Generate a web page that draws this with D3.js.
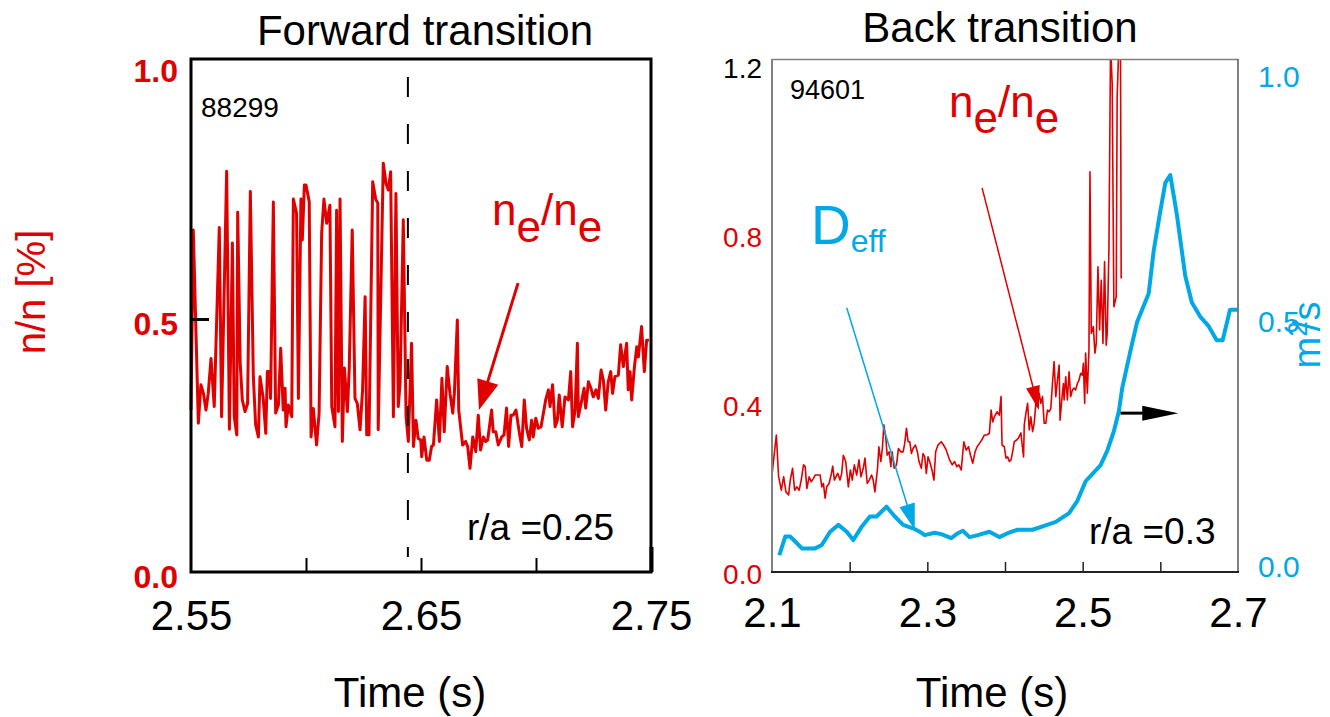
<!DOCTYPE html>
<html><head><meta charset="utf-8">
<script src="https://cdn.jsdelivr.net/npm/d3@7"></script>
<style>
body{margin:0;background:#fff;}
svg{display:block;font-family:"Liberation Sans",Arial,Helvetica,sans-serif;}
</style></head><body>
<svg id="chart" width="1330" height="717"></svg>
<script>
// ---------- DATA ----------
// Forward transition (shot 88299), r/a = 0.25 : density fluctuation level [%]
const forwardTime = [
 2.5500,2.5510,2.5532,2.5543,2.5554,2.5565,2.5575,2.5587,2.5601,2.5623,
 2.5633,2.5655,2.5667,2.5680,2.5688,2.5699,2.5703,2.5714,2.5723,2.5735,
 2.5746,2.5758,2.5771,2.5781,2.5793,2.5800,2.5814,2.5825,2.5832,2.5841,
 2.5846,2.5858,2.5868,2.5880,2.5890,2.5901,2.5909,2.5913,2.5923,2.5938,
 2.5945,2.5959,2.5967,2.5978,2.5984,2.5993,2.6000,2.6014,2.6022,2.6032,
 2.6039,2.6046,2.6057,2.6068,2.6078,2.6090,2.6104,2.6112,2.6126,2.6133,
 2.6141,2.6148,2.6158,2.6167,2.6180,2.6188,2.6201,2.6213,2.6223,2.6235,
 2.6246,2.6257,2.6264,2.6274,2.6290,2.6303,2.6312,2.6314,2.6336,2.6348,
 2.6358,2.6368,2.6380,2.6391,2.6401,2.6409,2.6423,2.6435,2.6445,2.6459,
 2.6467,2.6478,2.6488,2.6499,2.6503,2.6513,2.6525,2.6536,2.6546,2.6554,
 2.6568,2.6580,2.6591,2.6601,2.6614,2.6626,2.6638,2.6645,2.6658,2.6664,
 2.6681,2.6694,2.6703,2.6713,2.6725,2.6738,2.6749,2.6759,2.6771,2.6781,
 2.6790,2.6807,2.6814,2.6825,2.6836,2.6851,2.6861,2.6872,2.6881,2.6891,
 2.6901,2.6913,2.6928,2.6938,2.6949,2.6959,2.6971,2.6981,2.6988,2.6999,
 2.7010,2.7022,2.7042,2.7054,2.7061,2.7072,2.7083,2.7093,2.7101,2.7114,
 2.7126,2.7141,2.7151,2.7159,2.7170,2.7180,2.7184,2.7199,2.7209,2.7216,
 2.7228,2.7239,2.7249,2.7261,2.7271,2.7283,2.7293,2.7303,2.7314,2.7325,
 2.7333,2.7343,2.7358,2.7368,2.7380,2.7394,2.7401,2.7409,2.7416,2.7428,
 2.7438,2.7445,2.7459,2.7471,2.7481,2.7491];
const forwardValue = [
 0.320,0.676,0.294,0.370,0.353,0.320,0.353,0.422,0.327,0.681,
 0.307,0.792,0.282,0.650,0.307,0.271,0.711,0.412,0.340,0.317,
 0.333,0.752,0.386,0.291,0.267,0.386,0.343,0.274,0.396,0.396,
 0.343,0.731,0.314,0.330,0.442,0.320,0.363,0.287,0.330,0.307,
 0.737,0.709,0.343,0.737,0.656,0.765,0.765,0.732,0.267,0.323,
 0.287,0.251,0.314,0.669,0.737,0.689,0.725,0.327,0.287,0.715,
 0.317,0.737,0.258,0.403,0.317,0.403,0.676,0.343,0.333,0.281,
 0.360,0.544,0.271,0.271,0.771,0.737,0.729,0.281,0.808,0.768,
 0.755,0.791,0.307,0.748,0.327,0.373,0.696,0.307,0.258,0.452,
 0.248,0.300,0.264,0.261,0.228,0.267,0.221,0.221,0.248,0.251,
 0.340,0.258,0.383,0.277,0.406,0.353,0.314,0.353,0.498,0.320,
 0.251,0.258,0.248,0.205,0.267,0.238,0.310,0.241,0.267,0.258,
 0.261,0.320,0.277,0.277,0.251,0.267,0.271,0.324,0.248,0.310,
 0.310,0.320,0.274,0.248,0.340,0.284,0.261,0.300,0.267,0.304,
 0.284,0.287,0.340,0.360,0.327,0.370,0.287,0.300,0.350,0.287,
 0.346,0.340,0.396,0.287,0.320,0.452,0.307,0.340,0.363,0.324,
 0.376,0.363,0.346,0.360,0.343,0.399,0.379,0.320,0.376,0.396,
 0.353,0.386,0.389,0.449,0.406,0.452,0.360,0.396,0.340,0.406,
 0.445,0.425,0.485,0.396,0.458,0.458];

// Back transition (shot 94601), r/a = 0.3 : density fluctuation level
const backTime = [
 2.1000,2.1056,2.1085,2.1120,2.1150,2.1179,2.1214,2.1235,2.1265,2.1291,
 2.1321,2.1350,2.1376,2.1406,2.1427,2.1449,2.1479,2.1504,2.1534,2.1556,
 2.1620,2.1641,2.1662,2.1684,2.1705,2.1735,2.1761,2.1782,2.1803,2.1825,
 2.1846,2.1876,2.1897,2.1919,2.1949,2.1983,2.2009,2.2034,2.2060,2.2090,
 2.2120,2.2145,2.2175,2.2197,2.2226,2.2252,2.2282,2.2303,2.2325,2.2359,
 2.2376,2.2402,2.2423,2.2440,2.2466,2.2483,2.2509,2.2530,2.2547,2.2573,
 2.2603,2.2628,2.2658,2.2688,2.2709,2.2731,2.2752,2.2774,2.2795,2.2816,
 2.2846,2.2872,2.2893,2.2923,2.2944,2.2966,2.2987,2.3009,2.3030,2.3060,
 2.3085,2.3107,2.3137,2.3179,2.3209,2.3244,2.3286,2.3321,2.3350,2.3380,
 2.3406,2.3436,2.3470,2.3500,2.3530,2.3556,2.3585,2.3615,2.3641,2.3671,
 2.3701,2.3735,2.3769,2.3799,2.3821,2.3842,2.3863,2.3897,2.3927,2.3949,
 2.3962,2.3991,2.4013,2.4034,2.4056,2.4077,2.4098,2.4120,2.4150,2.4171,
 2.4205,2.4214,2.4239,2.4248,2.4269,2.4291,2.4312,2.4333,2.4355,2.4376,
 2.4397,2.4419,2.4440,2.4462,2.4483,2.4504,2.4526,2.4547,2.4568,2.4590,
 2.4611,2.4632,2.4654,2.4675,2.4697,2.4709,2.4731,2.4752,2.4761,2.4782,
 2.4803,2.4825,2.4846,2.4868,2.4889,2.4910,2.4932,2.4953,2.4974,2.4996,
 2.5009,2.5026,2.5038,2.5060,2.5081,2.5094,2.5111,2.5137,2.5158,2.5175,
 2.5197,2.5218,2.5239,2.5261,2.5282,2.5303,2.5316,2.5338,2.5359,2.5380,
 2.5402,2.5432,2.5444,2.5466,2.5487,2.5496];
const backValue = [
 0.230,0.325,0.226,0.194,0.226,0.190,0.183,0.218,0.246,0.194,
 0.202,0.194,0.218,0.254,0.250,0.198,0.226,0.214,0.222,0.230,
 0.230,0.202,0.210,0.175,0.202,0.210,0.230,0.251,0.218,0.226,
 0.234,0.218,0.234,0.277,0.262,0.202,0.242,0.218,0.254,0.230,
 0.266,0.226,0.246,0.270,0.210,0.218,0.230,0.218,0.190,0.246,
 0.297,0.262,0.297,0.349,0.317,0.277,0.285,0.250,0.285,0.246,
 0.254,0.293,0.285,0.285,0.305,0.341,0.309,0.309,0.281,0.293,
 0.301,0.285,0.262,0.246,0.281,0.273,0.234,0.273,0.262,0.242,
 0.218,0.285,0.301,0.309,0.301,0.289,0.266,0.254,0.262,0.250,
 0.254,0.242,0.309,0.289,0.297,0.277,0.258,0.285,0.297,0.305,
 0.313,0.325,0.325,0.329,0.384,0.356,0.368,0.380,0.372,0.416,
 0.301,0.297,0.270,0.273,0.262,0.266,0.285,0.309,0.313,0.317,
 0.330,0.313,0.273,0.349,0.376,0.400,0.337,0.368,0.333,0.353,
 0.400,0.392,0.424,0.400,0.416,0.353,0.353,0.384,0.380,0.388,
 0.447,0.499,0.416,0.455,0.491,0.360,0.408,0.447,0.408,0.463,
 0.408,0.475,0.416,0.432,0.436,0.432,0.447,0.455,0.471,0.467,
 0.495,0.400,0.519,0.424,0.526,0.949,0.566,0.582,0.519,0.542,
 0.724,0.574,0.692,0.542,0.736,0.538,0.566,0.764,1.250,1.159,
 0.629,0.653,1.127,1.250,1.250,0.696];

// Back transition : effective diffusivity D_eff [m^2/s]
const deffTime = [
 2.1094,2.1171,2.1235,2.1299,2.1385,2.1556,2.1641,2.1748,2.1855,2.1962,
 2.2047,2.2154,2.2261,2.2346,2.2474,2.2581,2.2688,2.2816,2.2902,2.2966,
 2.3094,2.3179,2.3308,2.3393,2.3457,2.3543,2.3650,2.3799,2.3927,2.4034,
 2.4162,2.4355,2.4504,2.4654,2.4825,2.4932,2.5038,2.5231,2.5316,2.5402,
 2.5466,2.5509,2.5615,2.5701,2.5850,2.5915,2.5991,2.6064,2.6128,2.6214,
 2.6321,2.6406,2.6513,2.6620,2.6726,2.6803,2.6897,2.6991];
const deffValue = [
 0.024,0.062,0.062,0.052,0.038,0.038,0.045,0.072,0.086,0.072,
 0.055,0.082,0.103,0.103,0.123,0.103,0.086,0.079,0.072,0.065,
 0.070,0.067,0.059,0.069,0.074,0.061,0.065,0.072,0.061,0.069,
 0.076,0.076,0.084,0.092,0.110,0.135,0.175,0.208,0.237,0.277,
 0.318,0.365,0.441,0.500,0.558,0.646,0.718,0.784,0.800,0.718,
 0.594,0.540,0.511,0.492,0.463,0.463,0.525,0.525];

const forwardXTickLabels = [2.55, 2.65, 2.75];
const forwardXMinorTicks = [2.60, 2.65, 2.70];
const forwardYTicks = [0.0, 0.5, 1.0];
const backXTickLabels = [2.1, 2.3, 2.5, 2.7];
const backXMinorTicks = [2.2, 2.3, 2.4, 2.5, 2.6];
const backYTicks = [0.0, 0.4, 0.8, 1.2];
const deffYTicks = [0.0, 0.5, 1.0];
const transitionTime = 2.6443;

// ---------- DRAWING ----------
const RED = "#e00000", BLUE = "#00a8e6";
const svg = d3.select("#chart");

function arrow(g, x1, y1, x2, y2, color, lw, hl, hw) {
  const dx = x2 - x1, dy = y2 - y1, len = Math.hypot(dx, dy);
  const ux = dx / len, uy = dy / len;
  const bx = x2 - ux * hl, by = y2 - uy * hl;
  const px = -uy, py = ux;
  g.append("line").attr("x1", x1).attr("y1", y1).attr("x2", bx + ux * 2).attr("y2", by + uy * 2)
    .attr("stroke", color).attr("stroke-width", lw);
  g.append("polygon")
    .attr("points", [[x2, y2], [bx + px * hw / 2, by + py * hw / 2], [bx - px * hw / 2, by - py * hw / 2]].map(p => p.join(",")).join(" "))
    .attr("fill", color);
}
function styleAxis(g) { g.select(".domain").remove(); }

// ===== LEFT PANEL =====
const xL = d3.scaleLinear([2.55, 2.75], [191, 651]);
const yL = d3.scaleLinear([0, 1], [572, 66]);
const gL = svg.append("g");

const fwd = d3.zip(forwardTime, forwardValue);
gL.append("path").datum(fwd)
  .attr("d", d3.line().x(d => xL(d[0])).y(d => yL(d[1])))
  .attr("fill", "none").attr("stroke", RED).attr("stroke-width", 3).attr("stroke-linejoin", "round");

// frame
gL.append("rect").attr("x", 191).attr("y", 59).attr("width", 460).attr("height", 513)
  .attr("fill", "none").attr("stroke", "#000").attr("stroke-width", 3);

// dashed transition line
gL.append("line").attr("x1", xL(transitionTime)).attr("x2", xL(transitionTime))
  .attr("y1", 77).attr("y2", 557).attr("stroke", "#000").attr("stroke-width", 2)
  .attr("stroke-dasharray", "20,27");

// x minor ticks
gL.append("g").attr("transform", "translate(0,572)")
  .call(d3.axisBottom(xL).tickValues(forwardXMinorTicks).tickSize(-14).tickFormat(""))
  .call(styleAxis).selectAll("line").attr("stroke", "#000").attr("stroke-width", 2);
gL.append("g").attr("transform", "translate(0,572)")
  .call(d3.axisBottom(xL).tickValues([2.75]).tickSize(-25).tickFormat(""))
  .call(styleAxis).selectAll("line").attr("stroke", "#000").attr("stroke-width", 4);
// x labels
gL.append("g").attr("transform", "translate(0,572)")
  .call(d3.axisBottom(xL).tickValues(forwardXTickLabels).tickSize(0).tickPadding(28).tickFormat(d3.format(".2f")))
  .call(styleAxis)
  .selectAll("text").attr("font-size", 42).attr("fill", "#000").attr("font-family", "Liberation Sans, Arial");
// y tick at 0.5
gL.append("g").attr("transform", "translate(191,0)")
  .call(d3.axisRight(yL).tickValues([0.5]).tickSize(18).tickFormat(""))
  .call(styleAxis).selectAll("line").attr("stroke", "#000").attr("stroke-width", 3);
// y labels
gL.append("g").attr("transform", "translate(191,5)")
  .call(d3.axisLeft(yL).tickValues(forwardYTicks).tickSize(0).tickPadding(13).tickFormat(d3.format(".1f")))
  .call(styleAxis)
  .selectAll("text").attr("font-size", 32).attr("font-weight", "bold").attr("fill", RED).attr("font-family", "Liberation Sans, Arial");

// titles & annotations
gL.append("text").attr("x", 425).attr("y", 45).attr("text-anchor", "middle").attr("font-size", 42).text("Forward transition");
gL.append("text").attr("x", 410).attr("y", 707).attr("text-anchor", "middle").attr("font-size", 42).text("Time (s)");
gL.append("text").attr("transform", "translate(45,292) rotate(-90)").attr("text-anchor", "middle")
  .attr("font-size", 40).attr("fill", RED).text("n/n [%]");
gL.append("text").attr("x", 201).attr("y", 117).attr("font-size", 28).text("88299");
gL.append("text").attr("x", 467).attr("y", 540).attr("font-size", 37).text("r/a =0.25");
const neL = gL.append("text").attr("x", 492).attr("y", 225).attr("font-size", 44).attr("fill", RED);
neL.append("tspan").text("n");
neL.append("tspan").attr("dy", 17).text("e");
neL.append("tspan").attr("dy", -17).text("/n");
neL.append("tspan").attr("dy", 17).text("e");
arrow(gL, xL(2.6922), yL(0.571), xL(2.6752), yL(0.320), RED, 3, 30, 22);

// ===== RIGHT PANEL =====
const xR = d3.scaleLinear([2.1, 2.7], [772, 1238]);
const yR = d3.scaleLinear([0, 1.2], [572, 66]);
const yB = d3.scaleLinear([0, 1], [567, 77]);
const gR = svg.append("g");

svg.append("defs").append("clipPath").attr("id", "clipR")
  .append("rect").attr("x", 772).attr("y", 60).attr("width", 466).attr("height", 512);

const back = d3.zip(backTime, backValue);
gR.append("path").datum(back).attr("clip-path", "url(#clipR)")
  .attr("d", d3.line().x(d => xR(d[0])).y(d => yR(d[1])))
  .attr("fill", "none").attr("stroke", RED).attr("stroke-width", 1.6).attr("stroke-linejoin", "round");

const deff = d3.zip(deffTime, deffValue);
gR.append("path").datum(deff).attr("clip-path", "url(#clipR)")
  .attr("d", d3.line().x(d => xR(d[0])).y(d => yB(d[1])))
  .attr("fill", "none").attr("stroke", BLUE).attr("stroke-width", 4).attr("stroke-linejoin", "round");

// frame
gR.append("line").attr("x1", 772).attr("x2", 772).attr("y1", 59).attr("y2", 572).attr("stroke", "#808080").attr("stroke-width", 2);
gR.append("line").attr("x1", 772).attr("x2", 1238).attr("y1", 59.5).attr("y2", 59.5).attr("stroke", "#808080").attr("stroke-width", 1.5);
gR.append("line").attr("x1", 1238).attr("x2", 1238).attr("y1", 59).attr("y2", 572).attr("stroke", "#555").attr("stroke-width", 1.5);
gR.append("line").attr("x1", 771).attr("x2", 1239).attr("y1", 572).attr("y2", 572).attr("stroke", "#222").attr("stroke-width", 2);

// x ticks
gR.append("g").attr("transform", "translate(0,572)")
  .call(d3.axisBottom(xR).tickValues(backXMinorTicks).tickSize(-10).tickFormat(""))
  .call(styleAxis).selectAll("line").attr("stroke", "#222").attr("stroke-width", 1.5);
gR.append("g").attr("transform", "translate(0,572)")
  .call(d3.axisBottom(xR).tickValues(backXTickLabels).tickSize(0).tickPadding(25).tickFormat(d3.format(".1f")))
  .call(styleAxis)
  .selectAll("text").attr("font-size", 42).attr("fill", "#000").attr("font-family", "Liberation Sans, Arial");
// left y labels
gR.append("g").attr("transform", "translate(772,3)")
  .call(d3.axisLeft(yR).tickValues(backYTicks).tickSize(0).tickPadding(10).tickFormat(d3.format(".1f")))
  .call(styleAxis)
  .selectAll("text").attr("font-size", 28).attr("font-family", "Liberation Sans, Arial")
  .attr("fill", d => d === 1.2 ? "#000" : RED);
// right y labels
gR.append("g").attr("transform", "translate(1238,0)")
  .call(d3.axisRight(yB).tickValues(deffYTicks).tickSize(0).tickPadding(20).tickFormat(d3.format(".1f")))
  .call(styleAxis)
  .selectAll("text").attr("font-size", 30).attr("fill", BLUE).attr("font-family", "Liberation Sans, Arial");

// titles & annotations
gR.append("text").attr("x", 1000).attr("y", 42).attr("text-anchor", "middle").attr("font-size", 42).text("Back transition");
gR.append("text").attr("x", 992).attr("y", 707).attr("text-anchor", "middle").attr("font-size", 42).text("Time (s)");
const m2 = gR.append("text").attr("transform", "translate(1320,335) rotate(-90)").attr("text-anchor", "middle")
  .attr("font-size", 38).attr("fill", BLUE);
m2.append("tspan").text("m");
m2.append("tspan").attr("dy", -13).attr("font-size", 28).text("2");
m2.append("tspan").attr("dy", 13).attr("dx", -10).text("/s");
gR.append("text").attr("x", 790).attr("y", 99).attr("font-size", 27).text("94601");
gR.append("text").attr("x", 1089).attr("y", 544).attr("font-size", 37).text("r/a =0.3");
const neR = gR.append("text").attr("x", 949).attr("y", 117).attr("font-size", 44).attr("fill", RED);
neR.append("tspan").text("n");
neR.append("tspan").attr("dy", 16).text("e");
neR.append("tspan").attr("dy", -16).text("/n");
neR.append("tspan").attr("dy", 16).text("e");
const dEff = gR.append("text").attr("x", 811).attr("y", 244).attr("font-size", 55).attr("fill", BLUE);
dEff.append("tspan").text("D");
dEff.append("tspan").attr("dy", 8).attr("font-size", 32).text("eff");

arrow(gR, xR(2.3705), yR(0.911), xR(2.4436), yR(0.384), RED, 1.5, 24, 14);
arrow(gR, xR(2.1962), yB(0.529), xR(2.2838), yB(0.076), BLUE, 1.5, 26, 16);
arrow(gR, xR(2.5487), yB(0.314), xR(2.6231), yB(0.314), "#000", 3, 36, 15);
</script>
</body></html>
